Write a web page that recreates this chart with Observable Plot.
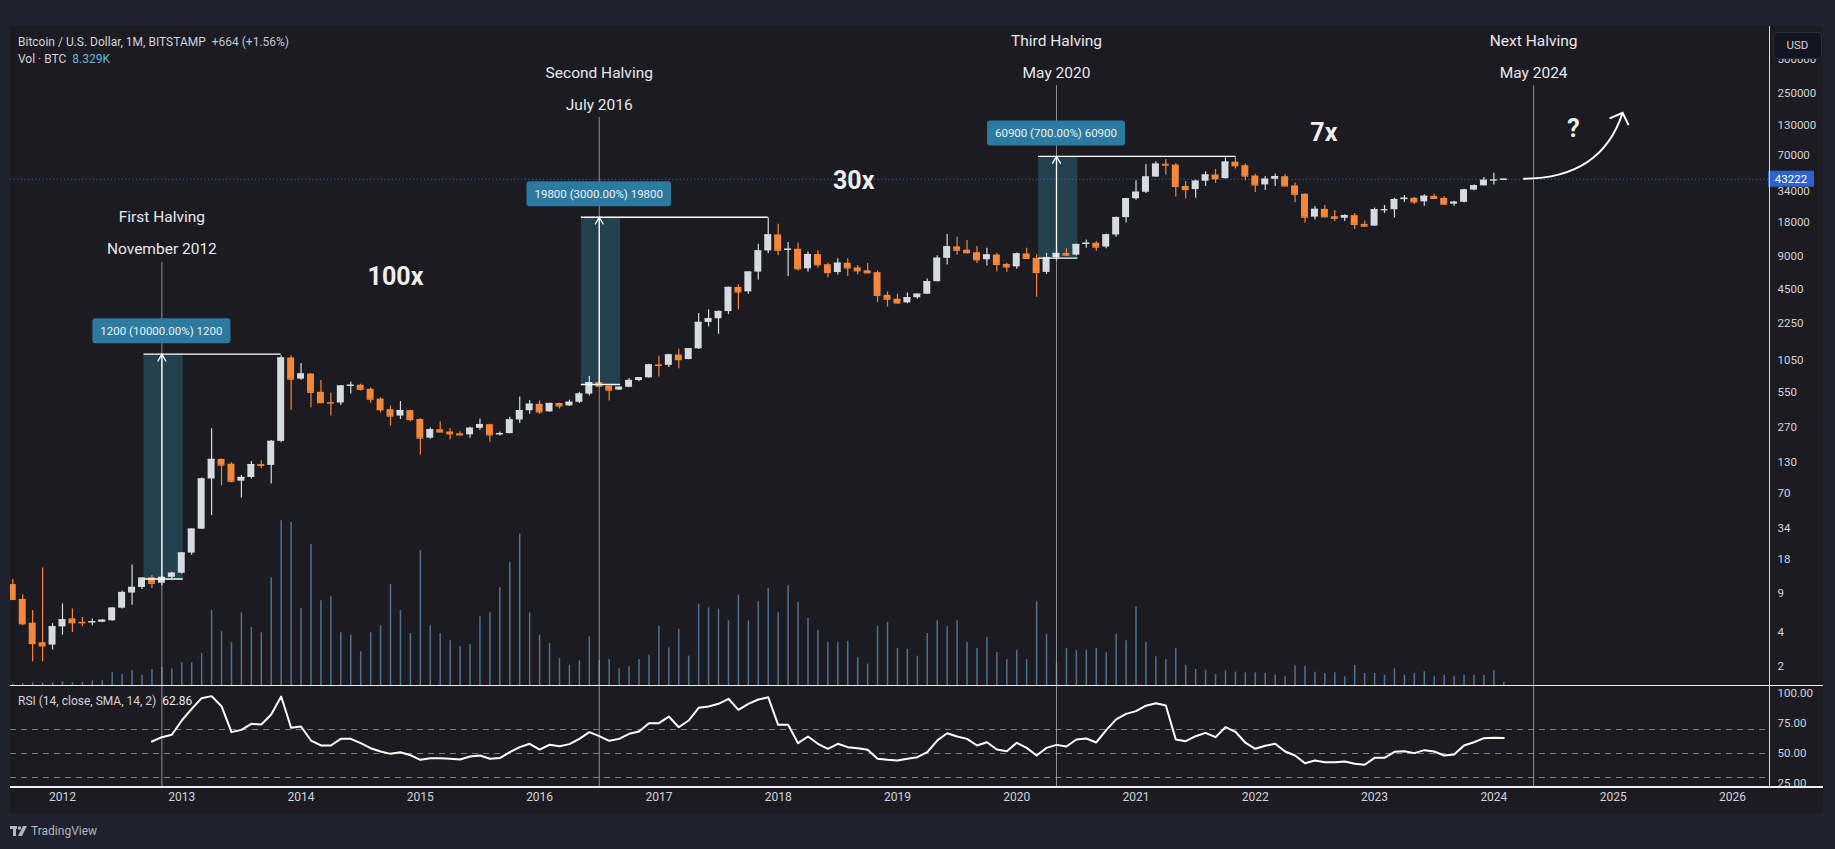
<!DOCTYPE html>
<html>
<head>
<meta charset="utf-8">
<script src="https://cdn.jsdelivr.net/npm/d3@7"></script>
<script src="https://cdn.jsdelivr.net/npm/@observablehq/plot@0.6"></script>
<style>
  html, body { margin:0; padding:0; background:#1f222d; }
  #root { position:relative; width:1835px; height:849px; background:#1f222d; overflow:hidden; font-family: Roboto, "Open Sans", "DejaVu Sans", sans-serif; color:#d1d4dc; }
  #pane { position:absolute; left:10px; top:26px; width:1813px; height:787px; background:#1c1b21; overflow:hidden; }
  .abs { position:absolute; white-space:nowrap; }
  #pane svg { position:absolute; left:0; }
</style>
</head>
<body>
<div id="root">
  <div id="pane"></div>
  <div class="abs" style="left:10px; top:824px; font-size:12px; color:#b2b5be; display:flex; align-items:center; gap:4px;">
    <svg width="17" height="10" viewBox="0 0 17 10"><rect x="0" y="0" width="7" height="3" fill="#b2b5be"/><rect x="3" y="0" width="3" height="10" fill="#b2b5be"/><circle cx="9.5" cy="2" r="1.8" fill="#b2b5be"/><polygon points="13,0 17,0 12,10 8,10" fill="#b2b5be"/></svg>
    <span>TradingView</span>
  </div>
</div>
<script>
// ---------------- DATA (monthly BITSTAMP BTCUSD, Aug 2011 .. Feb 2024) ----------------
const firstMonth = "2011-08";
const open = [
  10.7, 7.9, 4.85, 3.25, 3.1,                                              // 2011 Aug-Dec
  4.5, 5.3, 4.95, 4.9, 4.95, 5.1, 6.6, 9.0, 10.1, 12.3, 11.0, 12.4,         // 2012
  13.5, 20.4, 33.3, 93, 139, 126, 89, 96, 125, 123, 201, 1110,              // 2013
  720, 800, 550, 445, 442, 625, 635, 585, 478, 385, 338, 378,               // 2014
  315, 215, 255, 244, 235, 230, 263, 283, 230, 236, 312, 377,               // 2015
  430, 368, 437, 416, 448, 530, 670, 624, 575, 609, 700, 740,               // 2016
  963, 955, 1180, 1075, 1340, 2300, 2480, 2875, 4710, 4300, 6450, 9950,     // 2017
  13800, 10100, 10300, 6900, 9240, 7500, 6390, 7730, 7030, 6625, 6370, 4000,// 2018
  3700, 3430, 3815, 4100, 5300, 8560, 10800, 10100, 9600, 8300, 9150, 7550, // 2019
  7180, 9350, 8550, 6410, 8630, 9450, 9140, 11350, 11650, 10780, 13800, 19700, // 2020
  28990, 33100, 45200, 58800, 57800, 37300, 35000, 41500, 47100, 43800, 61300, 57000, // 2021
  46200, 38500, 43200, 45500, 37700, 31800, 19900, 23300, 20050, 19430, 20500, 17150, // 2022
  16550, 23120, 23150, 28480, 29250, 27200, 30450, 29200, 25940, 26970, 34640, 37720, // 2023
  42280, 42560                                                              // 2024
];
const high = [
  11.9, 8.7, 6.3, 15, 4.8,
  7.2, 6.5, 5.45, 5.3, 5.2, 6.7, 9.4, 16, 12.4, 12.9, 12.6, 13.8,
  20.6, 33.5, 95, 260, 140, 130, 100, 133, 135, 205, 1163, 1160,
  990, 805, 700, 540, 630, 680, 650, 600, 490, 415, 455, 380,
  320, 265, 300, 260, 245, 268, 318, 285, 244, 330, 500, 465,
  462, 440, 440, 468, 550, 760, 700, 626, 615, 730, 745, 975,
  1150, 1200, 1325, 1345, 2760, 2980, 2920, 4750, 4980, 6470, 11400, 19666,
  17200, 11800, 11700, 9760, 10000, 7770, 8500, 8500, 7400, 7680, 6600, 4300,
  4100, 4200, 4100, 5600, 9000, 13900, 13200, 12300, 10900, 10500, 9500, 7750,
  9550, 10500, 9200, 9460, 10070, 10380, 11450, 12470, 12050, 14100, 19900, 29300,
  41950, 58350, 61800, 64900, 59500, 41300, 42300, 50500, 52900, 67000, 69000, 59100,
  47990, 45800, 48200, 47400, 40000, 31900, 24700, 25200, 22800, 20900, 21400, 18400,
  23950, 25250, 29200, 31000, 29800, 31400, 31800, 30200, 27500, 35200, 38400, 44700,
  48970, 43400
];
const low = [
  7.8, 4.6, 2.2, 2.2, 2.8,
  3.8, 4.0, 4.5, 4.6, 4.9, 5.05, 6.5, 7.0, 9.7, 9.9, 10.4, 12.1,
  13.2, 19.5, 33, 44, 81, 86, 63, 93, 115, 84, 196, 380,
  705, 400, 440, 340, 420, 530, 565, 440, 360, 275, 315, 300,
  152, 210, 240, 208, 226, 215, 253, 198, 225, 235, 290, 350,
  350, 366, 390, 412, 436, 510, 600, 460, 570, 605, 682, 735,
  752, 915, 890, 1070, 1320, 2100, 1800, 2700, 2980, 4100, 5500, 9400,
  9000, 5900, 6600, 6430, 7000, 5750, 6070, 5880, 6100, 6200, 3450, 3150,
  3350, 3370, 3690, 4080, 5300, 7450, 9100, 9350, 7700, 7300, 6500, 6420,
  6850, 8450, 3850, 6150, 8120, 8900, 8980, 10500, 9880, 10400, 13200, 17600,
  28130, 32300, 45000, 47000, 30000, 28800, 29300, 37300, 39600, 43300, 53300, 42000,
  32950, 34300, 37200, 37700, 26700, 17600, 18800, 19600, 18150, 18200, 15500, 16250,
  16500, 21400, 19570, 26900, 25800, 24800, 28900, 25300, 24900, 26600, 34100, 37600,
  38500, 42500
];
const close = [
  7.9, 4.8, 3.2, 3.05, 4.5,
  5.2, 4.9, 4.9, 5.0, 5.15, 6.6, 9.1, 10.1, 12.2, 11.0, 12.4, 13.5,
  20.4, 33.3, 93, 139, 124, 89, 96, 125, 123, 201, 1110, 720,
  800, 550, 445, 442, 625, 635, 585, 478, 385, 338, 378, 315,
  215, 255, 244, 235, 230, 263, 283, 230, 236, 312, 377, 430,
  368, 437, 416, 448, 530, 670, 624, 575, 609, 700, 740, 963,
  955, 1180, 1075, 1340, 2300, 2480, 2875, 4710, 4300, 6450, 9950, 13800,
  10100, 10300, 6900, 9240, 7500, 6390, 7730, 7030, 6625, 6370, 4000, 3700,
  3430, 3815, 4100, 5300, 8560, 10800, 10100, 9600, 8300, 9150, 7550, 7180,
  9350, 8550, 6410, 8630, 9450, 9140, 11350, 11650, 10780, 13800, 19700, 28990,
  33100, 45200, 58800, 57800, 37300, 35000, 41500, 47100, 43800, 61300, 57000, 46200,
  38500, 43200, 45500, 37700, 31800, 19900, 23300, 20050, 19430, 20500, 17150, 16550,
  23120, 23150, 28480, 29250, 27200, 30450, 29200, 25940, 26970, 34640, 37720, 42280,
  42560, 43222
];
// volume (thousand BTC)
const volume = [
  1.5, 2, 2.5, 2.5, 2.5,
  3.7, 2.7, 3, 4.7, 4.7, 12.7, 11, 15.3, 10.3, 16, 18, 16.7,
  22.7, 22.7, 32, 75, 53.7, 43, 72.7, 58, 52.7, 107.7, 164.7, 163,
  77, 141, 84.7, 88.7, 52.7, 50.3, 33.7, 52.7, 59.7, 101, 75, 52,
  134.7, 59.7, 52, 44.7, 39.3, 41, 68.7, 72.7, 98, 122.7, 151.3, 72.7,
  50.3, 42, 27, 20.3, 24.7, 48.7, 25, 26, 16.7, 18.7, 26, 30.3,
  59.3, 37.7, 56, 29.3, 81.3, 77.7, 76.3, 64.7, 90.3, 64.7, 83.7, 97,
  72.7, 99.7, 83, 67, 55.3, 42.7, 42.7, 44.3, 27.7, 21.3, 59.3, 63,
  37, 36, 29.3, 52, 64.7, 58.7, 64.7, 43, 37, 48, 33, 26,
  35.3, 26, 83.7, 51, 22, 37, 34.7, 35.3, 37, 32.7, 51, 44.7,
  78.7, 43, 28.7, 26, 37, 20, 16, 15.3, 11, 14.7, 13.3, 12.7,
  12.7, 12, 10.3, 8.7, 19.7, 19.3, 13.3, 12, 12.7, 8.7, 20, 12,
  12, 10.3, 16.7, 10.3, 12, 13.7, 8.7, 10.3, 9.3, 10.3, 10.3, 10.3,
  14.7, 3
];
// RSI(14) from Oct 2012 to Feb 2024
const rsiStart = "2012-10";
const rsi = [
  60.0, 63.6, 65.6,                                                       // 2012 Oct-Dec
  77.5, 87.2, 96.1, 97.8, 89.4, 67.8, 69.7, 74.7, 74.2, 82.5, 97.5, 71.4,  // 2013
  72.5, 60.8, 56.7, 56.7, 62.2, 62.2, 58.6, 54.4, 51.7, 49.7, 51.1, 48.6,  // 2014
  44.7, 46.1, 46.1, 45.6, 45.0, 47.5, 48.3, 45.6, 46.2, 51.1, 55.3, 58.1,  // 2015
  53.3, 57.3, 56.0, 57.8, 62.2, 67.8, 64.5, 60.6, 62.2, 66.4, 68.3, 75.3,  // 2016
  75.3, 80.8, 71.9, 77.5, 88.1, 89.2, 91.4, 95.6, 86.4, 91.4, 95.0, 96.9,  // 2017
  73.9, 73.9, 58.6, 64.2, 58.1, 53.9, 58.1, 55.3, 54.4, 53.1, 45.6, 44.7,  // 2018
  44.2, 45.6, 46.9, 51.1, 60.8, 66.9, 64.2, 62.2, 56.7, 59.4, 53.3, 51.9,  // 2019
  58.9, 54.7, 48.3, 54.7, 57.2, 55.8, 61.7, 62.5, 59.2, 69.5, 78.5, 83.0,  // 2020
  85.3, 89.8, 91.9, 90.0, 61.7, 60.3, 64.4, 67.2, 63.6, 72.0, 68.1, 59.0,  // 2021
  53.9, 56.4, 58.1, 51.7, 48.3, 41.9, 44.2, 42.8, 42.8, 43.3, 41.4, 40.6,  // 2022
  46.4, 46.4, 51.4, 51.9, 50.3, 52.8, 51.7, 48.3, 49.2, 56.7, 59.4, 62.8,  // 2023
  63.1, 62.86                                                             // 2024
];
// axis ticks / labels
const priceTicks = [2, 4, 9, 18, 34, 70, 130, 270, 550, 1050, 2250, 4500, 9000, 18000, 34000, 70000, 130000, 250000, 500000];
const rsiTicks = [25, 50, 75, 100];
const rsiBands = [70, 50, 30];
const years = [2012, 2013, 2014, 2015, 2016, 2017, 2018, 2019, 2020, 2021, 2022, 2023, 2024, 2025, 2026];
const lastPrice = 43222;
// halvings
const halvingTitles = ["First Halving", "Second Halving", "Third Halving", "Next Halving"];
const halvingDates = ["November 2012", "July 2016", "May 2020", "May 2024"];
const halvingMonths = ["2012-11", "2016-07", "2020-05", "2024-05"];
const halvingLineTop = [7850, 153000, 294000, 294000];
// price-range measurements
const measureLabels = ["1200 (10000.00%) 1200", "19800 (3000.00%) 19800", "60900 (700.00%) 60900"];
const measureLow = [12, 645, 8600];
const measureHigh = [1200, 19850, 69000];
const measurePeakMonth = ["2013-11", "2017-12", "2021-11"];
// multiples text
const multLabels = ["100x", "30x", "7x", "?"];
const multMonth = [38.5, 84.6, 131.9, 157.0];
const multPrice = [5780, 41300, 110400, 122000];
// projected arrow
const arrowFrom = {month: "2024-04", price: 43222};
const arrowTo = {month: "2025-02", price: 167000};

// ---------------- helpers ----------------
const [fy, fm] = firstMonth.split("-").map(Number);
const mIdx = s => { const [y, m] = s.split("-").map(Number); return (y - fy) * 12 + (m - fm); };
const xDomain = [-0.23, 176.73];
const yDomain = [1.354, 987800];
const W = 1813, MR = 54, PH = 659;
const up = "#d5dbe0", down = "#f5873b";
const FONT = "Roboto, 'Open Sans', sans-serif";

const candles = close.map((c, i) => ({m: i, o: open[i], h: high[i], l: low[i], c, v: volume[i]}));
const col = d => d.c >= d.o ? up : down;
const halvings = halvingTitles.map((t, i) => ({title: t, date: halvingDates[i], m: mIdx(halvingMonths[i]), top: halvingLineTop[i]}));
const measures = measureLabels.map((t, i) => {
  const h = halvings[i].m;
  return {label: t, m: h, lo: measureLow[i], hi: measureHigh[i], x1: h - 1.8, x2: h + 2.15, peak: mIdx(measurePeakMonth[i])};
});
const mults = multLabels.map((t, i) => ({t, m: multMonth[i], p: multPrice[i]}));
const rsi0 = mIdx(rsiStart);
const rsiData = rsi.map((r, k) => ({m: rsi0 + k, r}));
const yearTicks = years.map(y => ({m: mIdx(y + "-01"), label: String(y)}));

const pane = document.getElementById("pane");

// ---------------- volume ----------------
const volPlot = Plot.plot({
  width: W, height: PH, marginLeft: 0, marginRight: MR, marginTop: 0, marginBottom: 0,
  style: {background: "transparent", overflow: "visible"},
  x: {type: "linear", domain: xDomain, axis: null},
  y: {domain: [0, d3.max(volume) * 4], axis: null},
  marks: [
    Plot.ruleX(candles, {x: "m", y1: 0, y2: "v", stroke: "#52718f", strokeWidth: 1.5})
  ]
});
volPlot.style.top = "0px";
pane.appendChild(volPlot);

// ---------------- price ----------------
const pricePlot = Plot.plot({
  width: W, height: PH, marginLeft: 0, marginRight: MR, marginTop: 0, marginBottom: 0,
  style: {background: "transparent", overflow: "visible", color: "#d1d4dc", fontFamily: FONT, fontSize: "11.5px"},
  x: {type: "linear", domain: xDomain, axis: null},
  y: {type: "log", domain: yDomain, axis: null},
  marks: [
    Plot.rect(measures, {x1: "x1", x2: "x2", y1: "lo", y2: "hi", fill: "#23404f"}),
    Plot.ruleX(halvings, {x: "m", y1: "top", y2: yDomain[0], stroke: "#a3a6ae", strokeWidth: 1, strokeOpacity: 0.85}),
    Plot.ruleY([lastPrice], {stroke: "#3f66c0", strokeWidth: 1, strokeDasharray: "1.2,2.4"}),
    Plot.ruleX(candles, {x: "m", y1: "l", y2: "h", stroke: col, strokeWidth: 1.2}),
    Plot.rect(candles, {x1: d => d.m - 0.35, x2: d => d.m + 0.35, y1: "o", y2: "c", fill: col}),
    Plot.ruleY(candles, {x1: d => d.m - 0.35, x2: d => d.m + 0.35, y: "c", stroke: col, strokeWidth: 1.3}),
    Plot.ruleY(measures, {y: "hi", x1: "x1", x2: "peak", stroke: "#ffffff", strokeWidth: 1.3}),
    Plot.ruleY(measures, {y: "lo", x1: "x1", x2: "x2", stroke: "#ffffff", strokeWidth: 1.3}),
    Plot.arrow(measures, {x1: "m", x2: "m", y1: "lo", y2: "hi", stroke: "#ffffff", strokeWidth: 1.3, headLength: 9}),
    Plot.text(halvings, {x: "m", y: "top", text: "title", dy: -45, fill: "#e6e8ee", fontSize: 15.5, fontFamily: FONT}),
    Plot.text(halvings, {x: "m", y: "top", text: "date", dy: -13, fill: "#e6e8ee", fontSize: 15.5, fontFamily: FONT}),
    Plot.text(mults, {x: "m", y: "p", text: "t", fill: "#eeeeee", fontSize: 25, fontWeight: "bold", fontFamily: FONT}),
    // right price axis labels
    Plot.text(priceTicks, {y: d => d, text: d => String(d), frameAnchor: "right", dx: 8, textAnchor: "start", fill: "#d1d4dc", fontSize: 11.5, fontFamily: FONT})
  ]
});
pricePlot.style.top = "0px";
pane.appendChild(pricePlot);

(function decorate(svgEl) {
  const sx = svgEl.scale("x"), sy = svgEl.scale("y");
  const g = d3.select(svgEl).append("g");
  // measurement labels
  measures.forEach(d => {
    const cx = sx.apply(d.m), cy = sy.apply(d.hi) - 23;
    const t = g.append("text").attr("x", cx).attr("y", cy).attr("dy", "0.35em")
      .attr("text-anchor", "middle").attr("fill", "#e9f1f5").attr("font-size", 11.5).attr("font-family", FONT).text(d.label);
    const w = t.node().getComputedTextLength() + 16;
    g.insert("rect", () => t.node()).attr("x", cx - w / 2).attr("y", cy - 12.5).attr("width", w).attr("height", 25)
      .attr("rx", 3).attr("fill", "#2d7aa0");
  });
  // curved projection arrow
  const x0 = sx.apply(mIdx(arrowFrom.month)), y0 = sy.apply(arrowFrom.price);
  const x1 = sx.apply(mIdx(arrowTo.month)), y1 = sy.apply(arrowTo.price);
  const dx = x1 - x0, dy = y1 - y0;
  g.append("path").attr("d", `M${x0},${y0} C${x0 + 0.5 * dx},${y0} ${x0 + 0.85 * dx},${y0 + 0.3 * dy} ${x1},${y1}`)
    .attr("fill", "none").attr("stroke", "#ffffff").attr("stroke-width", 2);
  g.append("path").attr("d", `M${x1 - 13},${y1 + 5.6} L${x1},${y1} L${x1 + 6},${y1 + 12.3}`)
    .attr("fill", "none").attr("stroke", "#ffffff").attr("stroke-width", 2);
  // last price tag
  const ty = sy.apply(lastPrice), tx = W - MR - 1;
  g.append("rect").attr("x", tx).attr("y", ty - 8).attr("width", 46).attr("height", 16).attr("fill", "#2f63c9");
  g.append("text").attr("x", tx + 23).attr("y", ty).attr("dy", "0.35em").attr("text-anchor", "middle")
    .attr("fill", "#ffffff").attr("font-size", 11.5).attr("font-family", FONT).text(String(lastPrice));
})(pricePlot);

// ---------------- RSI + time axis ----------------
const rsiPlot = Plot.plot({
  width: W, height: 128, marginLeft: 0, marginRight: MR, marginTop: 0, marginBottom: 27,
  style: {background: "transparent", overflow: "visible", color: "#d1d4dc", fontFamily: FONT, fontSize: "11.5px"},
  x: {type: "linear", domain: xDomain, axis: null},
  y: {domain: [22.5, 106.67], axis: null},
  marks: [
    Plot.ruleY(rsiBands, {stroke: "#9a9da6", strokeOpacity: 0.75, strokeDasharray: "6,5"}),
    Plot.ruleX(halvings, {x: "m", stroke: "#a3a6ae", strokeWidth: 1, strokeOpacity: 0.85}),
    Plot.line(rsiData, {x: "m", y: "r", stroke: "#ffffff", strokeWidth: 2}),
    Plot.text(rsiTicks, {y: d => d, text: d => d.toFixed(2), frameAnchor: "right", dx: 8, textAnchor: "start", fill: "#d1d4dc", fontSize: 11.5, fontFamily: FONT}),
    Plot.text(yearTicks, {x: "m", text: "label", frameAnchor: "bottom", dy: 14, fill: "#d1d4dc", fontSize: 12, fontFamily: FONT})
  ]
});
rsiPlot.style.top = (PH) + "px";
pane.appendChild(rsiPlot);

// ---------------- frame, header, labels ----------------
function addDiv(style, html) { const d = document.createElement("div"); d.className = "abs"; d.setAttribute("style", style); d.innerHTML = html; pane.appendChild(d); return d; }
addDiv(`left:0;top:${PH}px;width:${W}px;height:1px;background:#eceef1;`, "");
addDiv(`left:0;top:${PH + 101}px;width:${W}px;height:1.5px;background:#eceef1;`, "");
addDiv(`left:${W - MR}px;top:0;width:1px;height:${PH + 101}px;background:#d8dadf;`, "");
addDiv(`left:8px;top:9px;font-size:12px;line-height:14px;color:#d1d4dc;`, `Bitcoin / U.S. Dollar, 1M, BITSTAMP&nbsp;&nbsp;<span style="color:#c3c6ce">+664 (+1.56%)</span>`);
addDiv(`left:8px;top:26px;font-size:12px;line-height:14px;color:#d1d4dc;`, `Vol · BTC&nbsp;&nbsp;<span style="color:#5fb6e0">8.329K</span>`);
addDiv(`left:8px;top:${PH + 9}px;font-size:12px;line-height:14px;color:#d1d4dc;`, `RSI (14, close, SMA, 14, 2)&nbsp;&nbsp;<span style="color:#eeeeee">62.86</span>`);
addDiv(`left:${W - MR + 4}px;top:6px;width:47px;height:25px;border-radius:4px;background:#131620;border:1px solid #2a2e39;font-size:11.5px;line-height:25px;text-align:center;color:#d1d4dc;`, "USD");
</script>
</body>
</html>
